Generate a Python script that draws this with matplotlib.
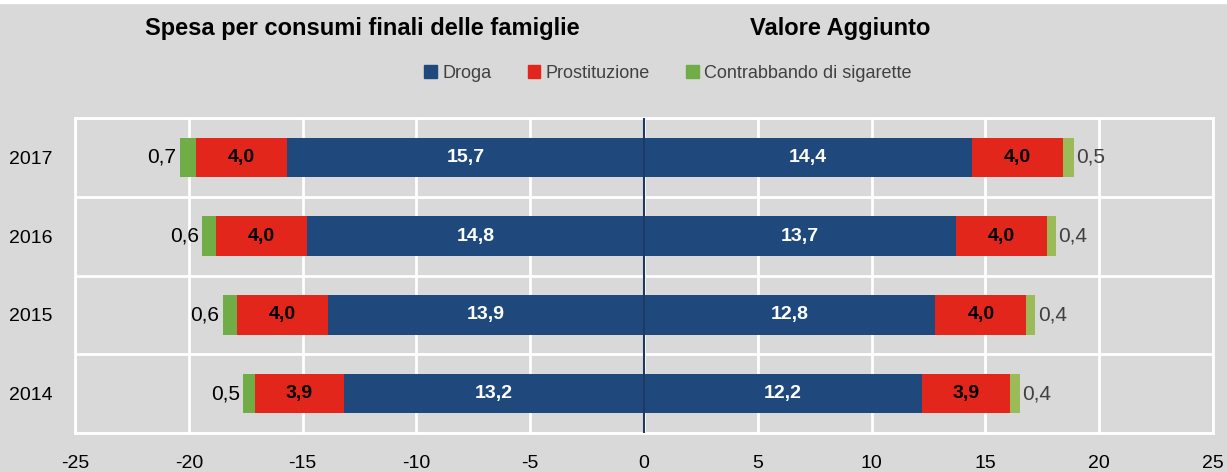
import numpy as np
import matplotlib.pyplot as plt
from matplotlib.patches import Patch

plt.rcParams['font.family'] = ['Liberation Sans', 'DejaVu Sans']

# dati
anni = ['2014', '2015', '2016', '2017']
spesa_droga = [13.2, 13.9, 14.8, 15.7]
spesa_prost = [3.9, 4.0, 4.0, 4.0]
spesa_sig = [0.5, 0.6, 0.6, 0.7]
va_droga = [12.2, 12.8, 13.7, 14.4]
va_prost = [3.9, 4.0, 4.0, 4.0]
va_sig = [0.4, 0.4, 0.4, 0.5]

c_droga = '#1f497d'
c_prost = '#e3261b'
c_sig_l = '#70ad47'
c_sig_r = '#9bbb59'
bg = '#d9d9d9'

def fmt(v):
    return f'{v:.1f}'.replace('.', ',')

fig = plt.figure(figsize=(12.27, 4.72), dpi=100, facecolor=bg)
ax = fig.add_axes([75/1227, 39/472, 1138/1227, 315/472])
ax.set_facecolor(bg)

y = np.arange(len(anni))
h = 0.5
sd = np.array(spesa_droga); sp = np.array(spesa_prost); ss = np.array(spesa_sig)
vd = np.array(va_droga); vp = np.array(va_prost); vs = np.array(va_sig)

# lato sinistro (spesa)
ax.barh(y, -sd, height=h, color=c_droga, zorder=3)
ax.barh(y, -sp, left=-sd, height=h, color=c_prost, zorder=3)
ax.barh(y, -ss, left=-sd - sp, height=h, color=c_sig_l, zorder=3)
# lato destro (valore aggiunto)
ax.barh(y, vd, height=h, color=c_droga, zorder=3)
ax.barh(y, vp, left=vd, height=h, color=c_prost, zorder=3)
ax.barh(y, vs, left=vd + vp, height=h, color=c_sig_r, zorder=3)

for i in range(len(anni)):
    ax.text(-sd[i] / 2, y[i], fmt(sd[i]), ha='center', va='center', color='white',
            fontsize=14, fontweight='bold', zorder=4)
    ax.text(-sd[i] - sp[i] / 2, y[i], fmt(sp[i]), ha='center', va='center', color='black',
            fontsize=14, fontweight='bold', zorder=4)
    ax.text(-sd[i] - sp[i] - ss[i] - 0.15, y[i], fmt(ss[i]), ha='right', va='center',
            color='black', fontsize=15, zorder=4)
    ax.text(vd[i] / 2, y[i], fmt(vd[i]), ha='center', va='center', color='white',
            fontsize=14, fontweight='bold', zorder=4)
    ax.text(vd[i] + vp[i] / 2, y[i], fmt(vp[i]), ha='center', va='center', color='black',
            fontsize=14, fontweight='bold', zorder=4)
    ax.text(vd[i] + vp[i] + vs[i] + 0.1, y[i], fmt(vs[i]), ha='left', va='center',
            color='#404040', fontsize=15, zorder=4)

ax.axvline(0, color='#1f3864', lw=1.5, zorder=5)

ax.set_xlim(-25, 25)
ax.set_ylim(-0.5, 3.5)
ax.set_xticks(np.arange(-25, 26, 5))
ax.set_xticklabels([str(t) for t in range(-25, 26, 5)])
ax.set_yticks(y)
ax.set_yticklabels(anni)
ax.set_yticks(np.arange(-0.5, 3.6, 1), minor=True)
ax.grid(axis='x', color='white', lw=2, zorder=1)
ax.grid(axis='y', which='minor', color='white', lw=2, zorder=1)
ax.tick_params(axis='both', which='both', length=0, labelsize=14)
ax.tick_params(axis='x', pad=16)
ax.tick_params(axis='y', pad=16)
for s in ax.spines.values():
    s.set_color('white')
    s.set_linewidth(2)

fig.text(362/1227, 1 - 28/472, 'Spesa per consumi finali delle famiglie', ha='center',
         va='center', fontsize=17, fontweight='bold')
fig.text(840/1227, 1 - 28/472, 'Valore Aggiunto', ha='center', va='center',
         fontsize=17, fontweight='bold')

handles = [Patch(color=c_droga, label='Droga'), Patch(color=c_prost, label='Prostituzione'),
           Patch(color=c_sig_l, label='Contrabbando di sigarette')]
leg = fig.legend(handles=handles, loc='center', bbox_to_anchor=(668/1227, 1 - 73/472), ncol=3,
                 frameon=False, fontsize=13, handlelength=0.7, handleheight=0.7,
                 handletextpad=0.3, columnspacing=2.0)
for t in leg.get_texts():
    t.set_color('#404040')

fig.patches.append(plt.Rectangle((0, 1 - 3/472), 1, 3/472, transform=fig.transFigure,
                                 color='white', zorder=10))

fig.savefig('out.png', dpi=100, facecolor=bg)
